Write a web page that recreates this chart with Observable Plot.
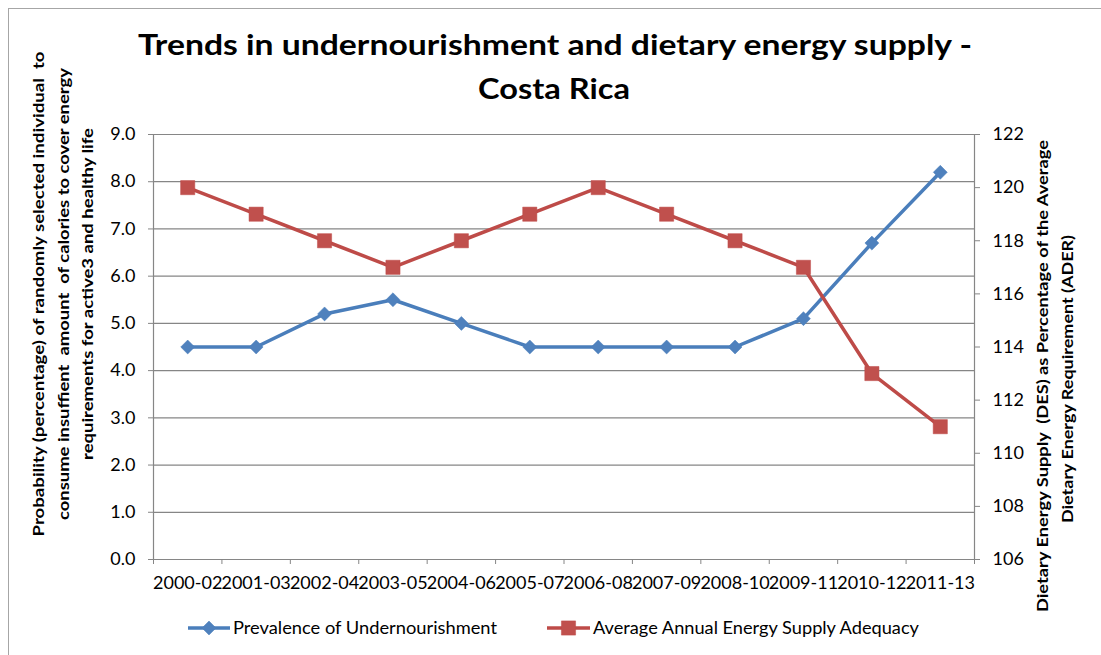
<!DOCTYPE html>
<html>
<head>
<meta charset="utf-8">
<script src="https://cdn.jsdelivr.net/npm/d3@7"></script>
<script src="https://cdn.jsdelivr.net/npm/@observablehq/plot@0.6"></script>
<style>
  html, body { margin: 0; padding: 0; background: #fff; }
  #chart svg { display: block; }
</style>
</head>
<body>
<div id="chart"></div>
<script>
// Three-year periods on the category axis
const periods = ["2000-02", "2001-03", "2002-04", "2003-05", "2004-06", "2005-07",
                 "2006-08", "2007-09", "2008-10", "2009-11", "2010-12", "2011-13"];
// Prevalence of undernourishment (%), left axis
const undernourishment = [4.5, 4.5, 5.2, 5.5, 5.0, 4.5, 4.5, 4.5, 4.5, 5.1, 6.7, 8.2];
// Average dietary energy supply adequacy (% of ADER), right axis
const adequacy = [120, 119, 118, 117, 118, 119, 120, 119, 118, 117, 113, 111];
// Axis ticks
const leftTicks = [0, 1, 2, 3, 4, 5, 6, 7, 8, 9];
const rightTicks = [106, 108, 110, 112, 114, 116, 118, 120, 122];

const leftDomain = [0, 9];
const rightDomain = [106, 122];
// map right-axis values onto the left-axis scale
const toLeft = d3.scaleLinear(rightDomain, leftDomain);

const rows = periods.map((p, i) => ({period: p, pos: i + 0.5, pou: undernourishment[i], des: adequacy[i]}));

const GRID = "#868686";
const BLUE_LINE = "#4A7EBB", BLUE_FILL = "#4F81BD";
const RED_LINE = "#BE4B48", RED_FILL = "#C0504D";
const FONT = "Lato, 'Open Sans', sans-serif";

const chart = Plot.plot({
  width: 1101,
  height: 655,
  marginLeft: 153,
  marginRight: 127,
  marginTop: 134,
  marginBottom: 96,
  style: {fontFamily: FONT, fontSize: "18px", background: "#fff", color: "#000"},
  x: {domain: [0, periods.length], axis: null},
  y: {domain: leftDomain, axis: null},
  marks: [
    Plot.gridY(leftTicks, {stroke: GRID, strokeOpacity: 1, strokeWidth: 1.2}),
    Plot.ruleX([0, periods.length], {stroke: GRID, strokeWidth: 1.2}),
    Plot.axisY(leftTicks, {anchor: "left", tickSize: 5, tickPadding: 13,
      tickFormat: d3.format(".1f"), stroke: GRID, fill: "#000", label: null}),
    Plot.axisY(rightTicks, {anchor: "right", y: d => toLeft(d), tickSize: 5, tickPadding: 13,
      tickFormat: d => String(d), stroke: GRID, fill: "#000", label: null}),
    Plot.axisX(d3.range(0, periods.length + 1), {anchor: "bottom", tickSize: 5,
      tickFormat: () => "", stroke: GRID, label: null}),
    Plot.axisX(rows, {anchor: "bottom", x: "pos", tickSize: 0, tickPadding: 17,
      tickFormat: d => d.period, fill: "#000", label: null}),
    Plot.line(rows, {x: "pos", y: "pou", stroke: BLUE_LINE, strokeWidth: 3.5}),
    Plot.dot(rows, {x: "pos", y: "pou", symbol: "diamond2", r: 6.3, fill: BLUE_FILL, stroke: BLUE_LINE, strokeWidth: 0.5}),
    Plot.line(rows, {x: "pos", y: d => toLeft(d.des), stroke: RED_LINE, strokeWidth: 3.5}),
    Plot.dot(rows, {x: "pos", y: d => toLeft(d.des), symbol: "square", r: 8, fill: RED_FILL, stroke: RED_LINE, strokeWidth: 0.5})
  ]
});

document.getElementById("chart").appendChild(chart);

const svg = d3.select(chart);

// outer chart-area border
svg.insert("rect", ":first-child")
  .attr("x", 8.5).attr("y", 8.5).attr("width", 1200).attr("height", 800)
  .attr("fill", "none").attr("stroke", "#a6a6a6");

// title
const title = svg.append("g").attr("font-family", FONT).attr("font-weight", 700)
  .attr("font-size", 28).attr("text-anchor", "middle").attr("fill", "#000");
title.append("text").attr("x", 555).attr("y", 55)
  .attr("textLength", 834).attr("lengthAdjust", "spacingAndGlyphs")
  .text("Trends in undernourishment and dietary energy supply -");
title.append("text").attr("x", 554).attr("y", 99)
  .attr("textLength", 152).attr("lengthAdjust", "spacingAndGlyphs")
  .text("Costa Rica");

// rotated axis titles
function axisTitle(lines) {
  const g = svg.append("g").attr("font-family", FONT).attr("font-weight", 700)
    .attr("font-size", 16).attr("text-anchor", "middle").attr("fill", "#000");
  for (const l of lines) {
    g.append("text")
      .attr("transform", `translate(${l.x},${l.y}) rotate(-90)`)
      .attr("dy", "0.35em")
      .attr("textLength", l.len).attr("lengthAdjust", "spacingAndGlyphs")
      .text(l.text);
  }
}
axisTitle([
  {x: 38, y: 294, len: 485, text: "Probability (percentage) of randomly selected individual  to"},
  {x: 63, y: 294, len: 452, text: "consume insuffient  amount  of calories to cover energy"},
  {x: 87, y: 294, len: 332, text: "requirements for active3 and healthy life"}
]);
axisTitle([
  {x: 1042, y: 376, len: 472, text: "Dietary Energy Supply  (DES) as Percentage of the Average"},
  {x: 1067, y: 379, len: 288, text: "Dietary Energy Requirement (ADER)"}
]);

// legend
const legend = svg.append("g").attr("font-family", FONT).attr("font-size", 17)
  .attr("text-anchor", "start").attr("fill", "#000");
const ly = 628;
const items = [
  {x0: 188, x1: 230, tx: 233, len: 264, line: BLUE_LINE, fill: BLUE_FILL,
   sym: d3.symbol(d3.symbolDiamond2, Math.PI * 6.3 * 6.3), text: "Prevalence of Undernourishment"},
  {x0: 547, x1: 590, tx: 593, len: 326, line: RED_LINE, fill: RED_FILL,
   sym: d3.symbol(d3.symbolSquare, Math.PI * 64), text: "Average Annual Energy Supply Adequacy"}
];
for (const it of items) {
  legend.append("line").attr("x1", it.x0).attr("x2", it.x1).attr("y1", ly).attr("y2", ly)
    .attr("stroke", it.line).attr("stroke-width", 3.5);
  legend.append("path").attr("d", it.sym())
    .attr("transform", `translate(${(it.x0 + it.x1) / 2},${ly})`)
    .attr("fill", it.fill).attr("stroke", it.line).attr("stroke-width", 0.5);
  legend.append("text").attr("x", it.tx).attr("y", ly).attr("dy", "0.35em")
    .attr("text-anchor", "start")
    .attr("textLength", it.len).attr("lengthAdjust", "spacingAndGlyphs")
    .text(it.text);
}
</script>
</body>
</html>
